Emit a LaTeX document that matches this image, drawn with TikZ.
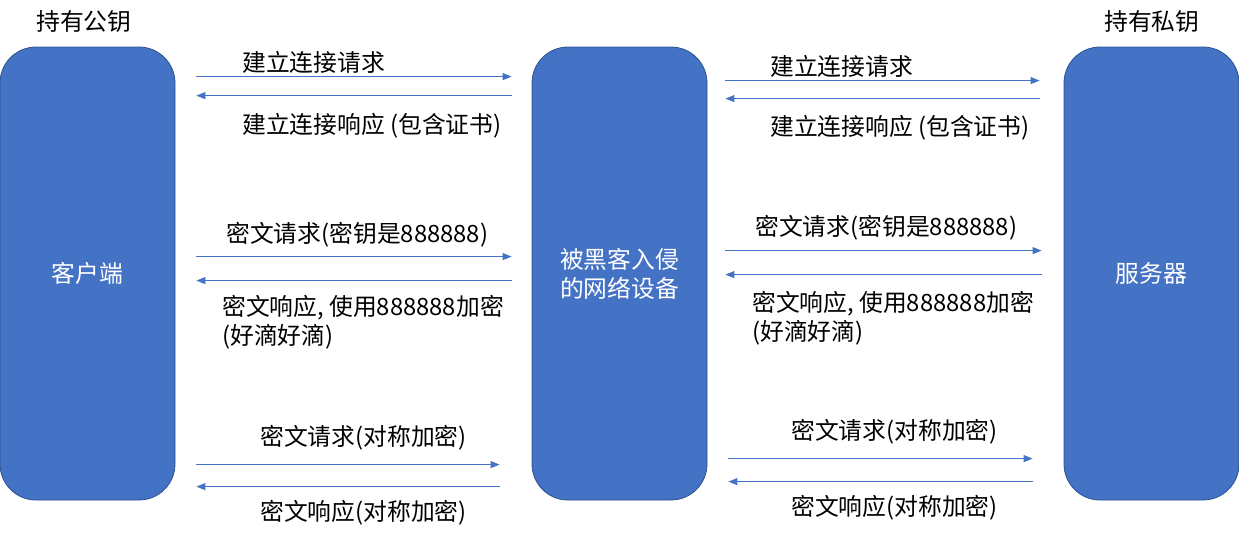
\documentclass[tikz,border=0pt]{standalone}
\usepackage{fontspec}
\setmainfont{Noto Sans CJK SC}
\usetikzlibrary{positioning,arrows.meta}
\definecolor{boxblue}{RGB}{68,114,196}
\definecolor{edgeblue}{RGB}{47,82,143}

\begin{document}
\begin{tikzpicture}[x=1pt, y=-1pt, >={Triangle[length=9pt,width=7pt]},
    party/.style={draw=edgeblue, line width=0.8pt, fill=boxblue, rounded corners=36pt,
      minimum width=175pt, minimum height=453pt, text=white, align=center,
      font=\fontsize{23.8}{29}\selectfont},
    msg/.style={boxblue, line width=1pt},
    lbl/.style={anchor=west, inner sep=0pt, align=left, font=\fontsize{23.8}{29}\selectfont}]
    \useasboundingbox (0,0) rectangle (1239,542);

    \node[party] (client) at (87.5,273.5) {客户端};
    \node[party] (hub) at (619.5,273.5) {被黑客入侵\\的网络设备};
    \node[party] (server) at (1151.5,273.5) {服务器};

    \node[lbl] (pubkey) at (36,22) {持有公钥};
    \node[lbl] (privkey) at (1104,22) {持有私钥};

    % client <-> hub
    \draw[msg, ->] ([shift={(21,30)}]client.north east) -- ([shift={(-20,30)}]hub.north west);
    \draw[msg, ->] ([shift={(-20,49)}]hub.north west) -- ([shift={(21,49)}]client.north east);
    \draw[msg, ->] ([shift={(21,210)}]client.north east) -- ([shift={(-20,210)}]hub.north west);
    \draw[msg, ->] ([shift={(-20,234)}]hub.north west) -- ([shift={(21,234)}]client.north east);
    \draw[msg, ->] ([shift={(21,418)}]client.north east) -- ([shift={(-32,418)}]hub.north west);
    \draw[msg, ->] ([shift={(-32,440)}]hub.north west) -- ([shift={(21,440)}]client.north east);

    \node[lbl] (lreq) at (242,62) {建立连接请求};
    \node[lbl] (lres) at (242,126) {建立连接响应 (包含证书)};
    \node[lbl] (lkey) at (226,235) {密文请求(密钥是888888)};
    \node[lbl] (lack) at (222,322.5) {密文响应, 使用888888加密\\(好滴好滴)};
    \node[lbl] (lsreq) at (260,438) {密文请求(对称加密)};
    \node[lbl] (lsres) at (260,513) {密文响应(对称加密)};

    % hub <-> server
    \draw[msg, ->] ([shift={(18,34)}]hub.north east) -- ([shift={(-24,34)}]server.north west);
    \draw[msg, ->] ([shift={(-24,52)}]server.north west) -- ([shift={(18,52)}]hub.north east);
    \draw[msg, ->] ([shift={(18,204)}]hub.north east) -- ([shift={(-22,204)}]server.north west);
    \draw[msg, ->] ([shift={(-22,228)}]server.north west) -- ([shift={(18,228)}]hub.north east);
    \draw[msg, ->] ([shift={(21,412)}]hub.north east) -- ([shift={(-31,412)}]server.north west);
    \draw[msg, ->] ([shift={(-31,435)}]server.north west) -- ([shift={(21,435)}]hub.north east);

    \node[lbl] (rreq) at (770,66) {建立连接请求};
    \node[lbl] (rres) at (770,128) {建立连接响应 (包含证书)};
    \node[lbl] (rkey) at (755,228) {密文请求(密钥是888888)};
    \node[lbl] (rack) at (752,318) {密文响应, 使用888888加密\\(好滴好滴)};
    \node[lbl] (rsreq) at (791,432) {密文请求(对称加密)};
    \node[lbl] (rsres) at (791,508) {密文响应(对称加密)};
  \end{tikzpicture}
\end{document}
